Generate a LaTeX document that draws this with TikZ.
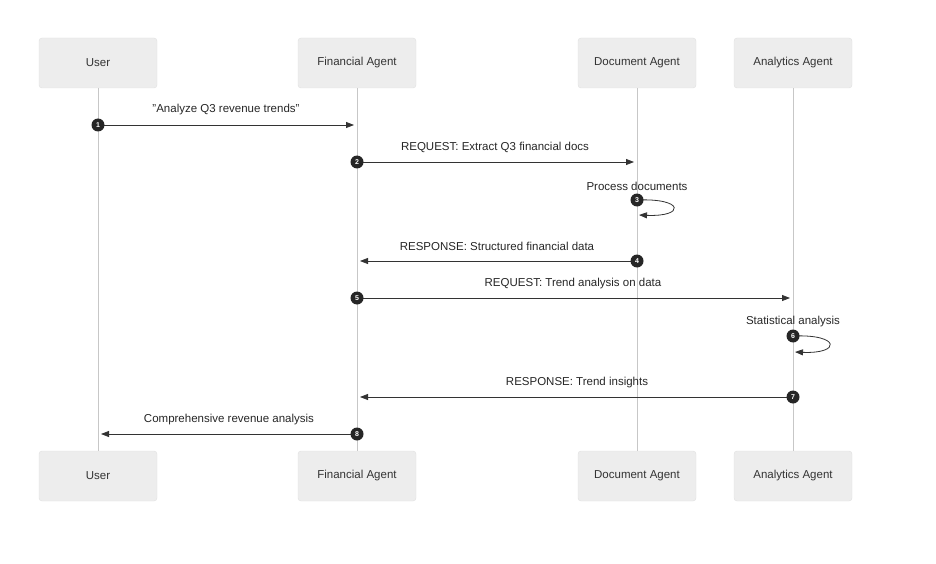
\documentclass[tikz,border=0pt]{standalone}
\usepackage{fontspec}
\setmainfont{Liberation Sans}
\usetikzlibrary{arrows.meta}
\begin{document}
\begin{tikzpicture}[x=1pt,y=-1pt,
  actor/.style={draw=black!12,fill=black!7,rounded corners=3pt,minimum width=118pt,minimum height=50pt,font=\fontsize{11.5}{13}\selectfont,text=black!80},
  life/.style={draw=black!22,line width=1pt},
  msg/.style={draw=black!80,line width=0.8pt,-{Triangle[length=8pt,width=6pt]}},
  lbl/.style={font=\fontsize{11.5}{13}\selectfont,text=black!85},
  num/.style={circle,fill=black!85,text=white,inner sep=0pt,minimum size=13pt,font=\bfseries\fontsize{7}{8}\selectfont}]
\useasboundingbox (0,0) rectangle (936,564);
\foreach \n/\x/\t in {u/98/User,f/357/Financial Agent,d/637/Document Agent,a/793/Analytics Agent}{
  \node[actor] (\n t) at (\x,63) {\t};
  \node[actor] (\n b) at (\x,476) {\t};
  \draw[life] (\n t.south) -- (\n b.north);
}
% 1
\coordinate (m1a) at (98,125); \coordinate (m1b) at (354,125);
\draw[msg] (m1a) -- (m1b);
\node[lbl] (l1) at (226,110) {"Analyze Q3 revenue trends"};
\node[num] (n1) at (m1a) {1};
% 2
\coordinate (m2a) at (357,162); \coordinate (m2b) at (634,162);
\draw[msg] (m2a) -- (m2b);
\node[lbl] (l2) at (495,147) {REQUEST: Extract Q3 financial docs};
\node[num] (n2) at (m2a) {2};
% 3
\coordinate (m3a) at (637,200); \coordinate (m3b) at (639,215);
\draw[msg] (m3a) .. controls (685,198) and (685,217) .. (m3b);
\node[lbl] (l3) at (637,186) {Process documents};
\node[num] (n3) at (m3a) {3};
% 4
\coordinate (m4a) at (637,261); \coordinate (m4b) at (360,261);
\draw[msg] (m4a) -- (m4b);
\node[lbl] (l4) at (497,246) {RESPONSE: Structured financial data};
\node[num] (n4) at (m4a) {4};
% 5
\coordinate (m5a) at (357,298); \coordinate (m5b) at (790,298);
\draw[msg] (m5a) -- (m5b);
\node[lbl] (l5) at (573,284) {REQUEST: Trend analysis on data};
\node[num] (n5) at (m5a) {5};
% 6
\coordinate (m6a) at (793,336); \coordinate (m6b) at (795,352);
\draw[msg] (m6a) .. controls (841,334) and (841,354) .. (m6b);
\node[lbl] (l6) at (793,322) {Statistical analysis};
\node[num] (n6) at (m6a) {6};
% 7
\coordinate (m7a) at (793,397); \coordinate (m7b) at (360,397);
\draw[msg] (m7a) -- (m7b);
\node[lbl] (l7) at (577,383) {RESPONSE: Trend insights};
\node[num] (n7) at (m7a) {7};
% 8
\coordinate (m8a) at (357,434); \coordinate (m8b) at (101,434);
\draw[msg] (m8a) -- (m8b);
\node[lbl] (l8) at (229,420) {Comprehensive revenue analysis};
\node[num] (n8) at (m8a) {8};
\end{tikzpicture}
\end{document}
